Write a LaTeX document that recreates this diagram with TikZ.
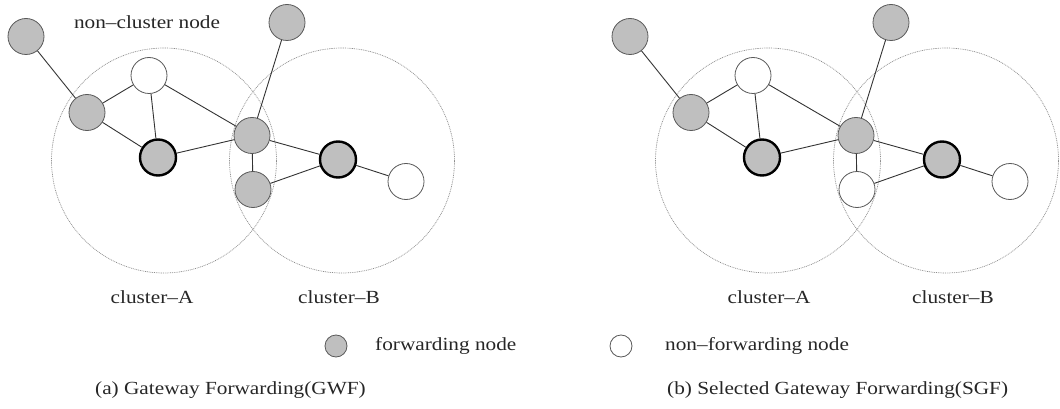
\documentclass[tikz,border=0pt]{standalone}
\usepackage{fontspec}
\setmainfont{Liberation Serif}[FakeStretch=1.15]
\begin{document}
\begin{tikzpicture}[x=1pt,y=-1pt,
  every node/.style={font=\fontsize{18.5}{22}\selectfont, text=black!85},
  fwd/.style={circle, draw=black!65, line width=0.8pt, fill=black!25, minimum size=36pt, inner sep=0pt},
  nfwd/.style={circle, draw=black!65, line width=0.8pt, fill=white, minimum size=36pt, inner sep=0pt},
  head/.style={fwd, draw=black, line width=2.4pt},
  cluster/.style={circle, draw=black!45, line width=0.7pt, dash pattern=on 0.9pt off 0.9pt, minimum size=225pt, inner sep=0pt},
  link/.style={draw=black!80, line width=0.9pt},
  key/.style={circle, draw=black!65, line width=0.8pt, minimum size=22pt, inner sep=0pt},
  lbl/.style={inner sep=0pt}
]
\useasboundingbox (0,0) rectangle (1060,409);

% one panel per forwarding scheme; the lower gateway differs between them
\foreach \p/\dx/\low in {a/0/fwd, b/604/nfwd}{
  \begin{scope}[xshift=\dx pt, yshift=-0.5pt]
    \node[cluster] (\p clA) at (164,160) {};
    \node[cluster] (\p clB) at (342,160) {};

    \node[fwd]  (\p out1) at (26,36)   {};
    \node[fwd]  (\p out2) at (287,22)  {};
    \node[nfwd] (\p top)  at (149,75)  {};
    \node[fwd]  (\p left) at (87,112)  {};
    \node[head] (\p hA)   at (158,157) {};
    \node[fwd]  (\p gw)   at (252,135) {};
    \node[\low] (\p gw2)  at (253,189) {};
    \node[head] (\p hB)   at (338,159) {};
    \node[nfwd] (\p right) at (406,181) {};

    \path[link] (\p out1) -- (\p left);
    \path[link] (\p left) -- (\p top);
    \path[link] (\p left) -- (\p hA);
    \path[link] (\p top)  -- (\p hA);
    \path[link] (\p top)  -- (\p gw);
    \path[link] (\p hA)   -- (\p gw);
    \path[link] (\p out2) -- (\p gw);
    \path[link] (\p gw)   -- (\p gw2);
    \path[link] (\p gw)   -- (\p hB);
    \path[link] (\p gw2)  -- (\p hB);
    \path[link] (\p hB)   -- (\p right);
  \end{scope}
}

\node[lbl] (ncl) at (147,22) {non–cluster node};

\node[lbl] (laA) at (152,297) {cluster–A};
\node[lbl] (laB) at (339,297) {cluster–B};
\node[lbl] (lbA) at (769,297) {cluster–A};
\node[lbl] (lbB) at (953,297) {cluster–B};

% legend
\node[key, fill=black!25] (kf) at (336,346) {};
\node[lbl, anchor=west] (kft) at (375,346) {forwarding node};
\node[key, fill=white] (kn) at (621,346) {};
\node[lbl, anchor=west] (knt) at (665,346) {non–forwarding node};

% captions
\node[lbl, anchor=west] (capa) at (95,390) {(a) Gateway Forwarding(GWF)};
\node[lbl, anchor=west] (capb) at (667,390) {(b) Selected Gateway Forwarding(SGF)};
\end{tikzpicture}
\end{document}
